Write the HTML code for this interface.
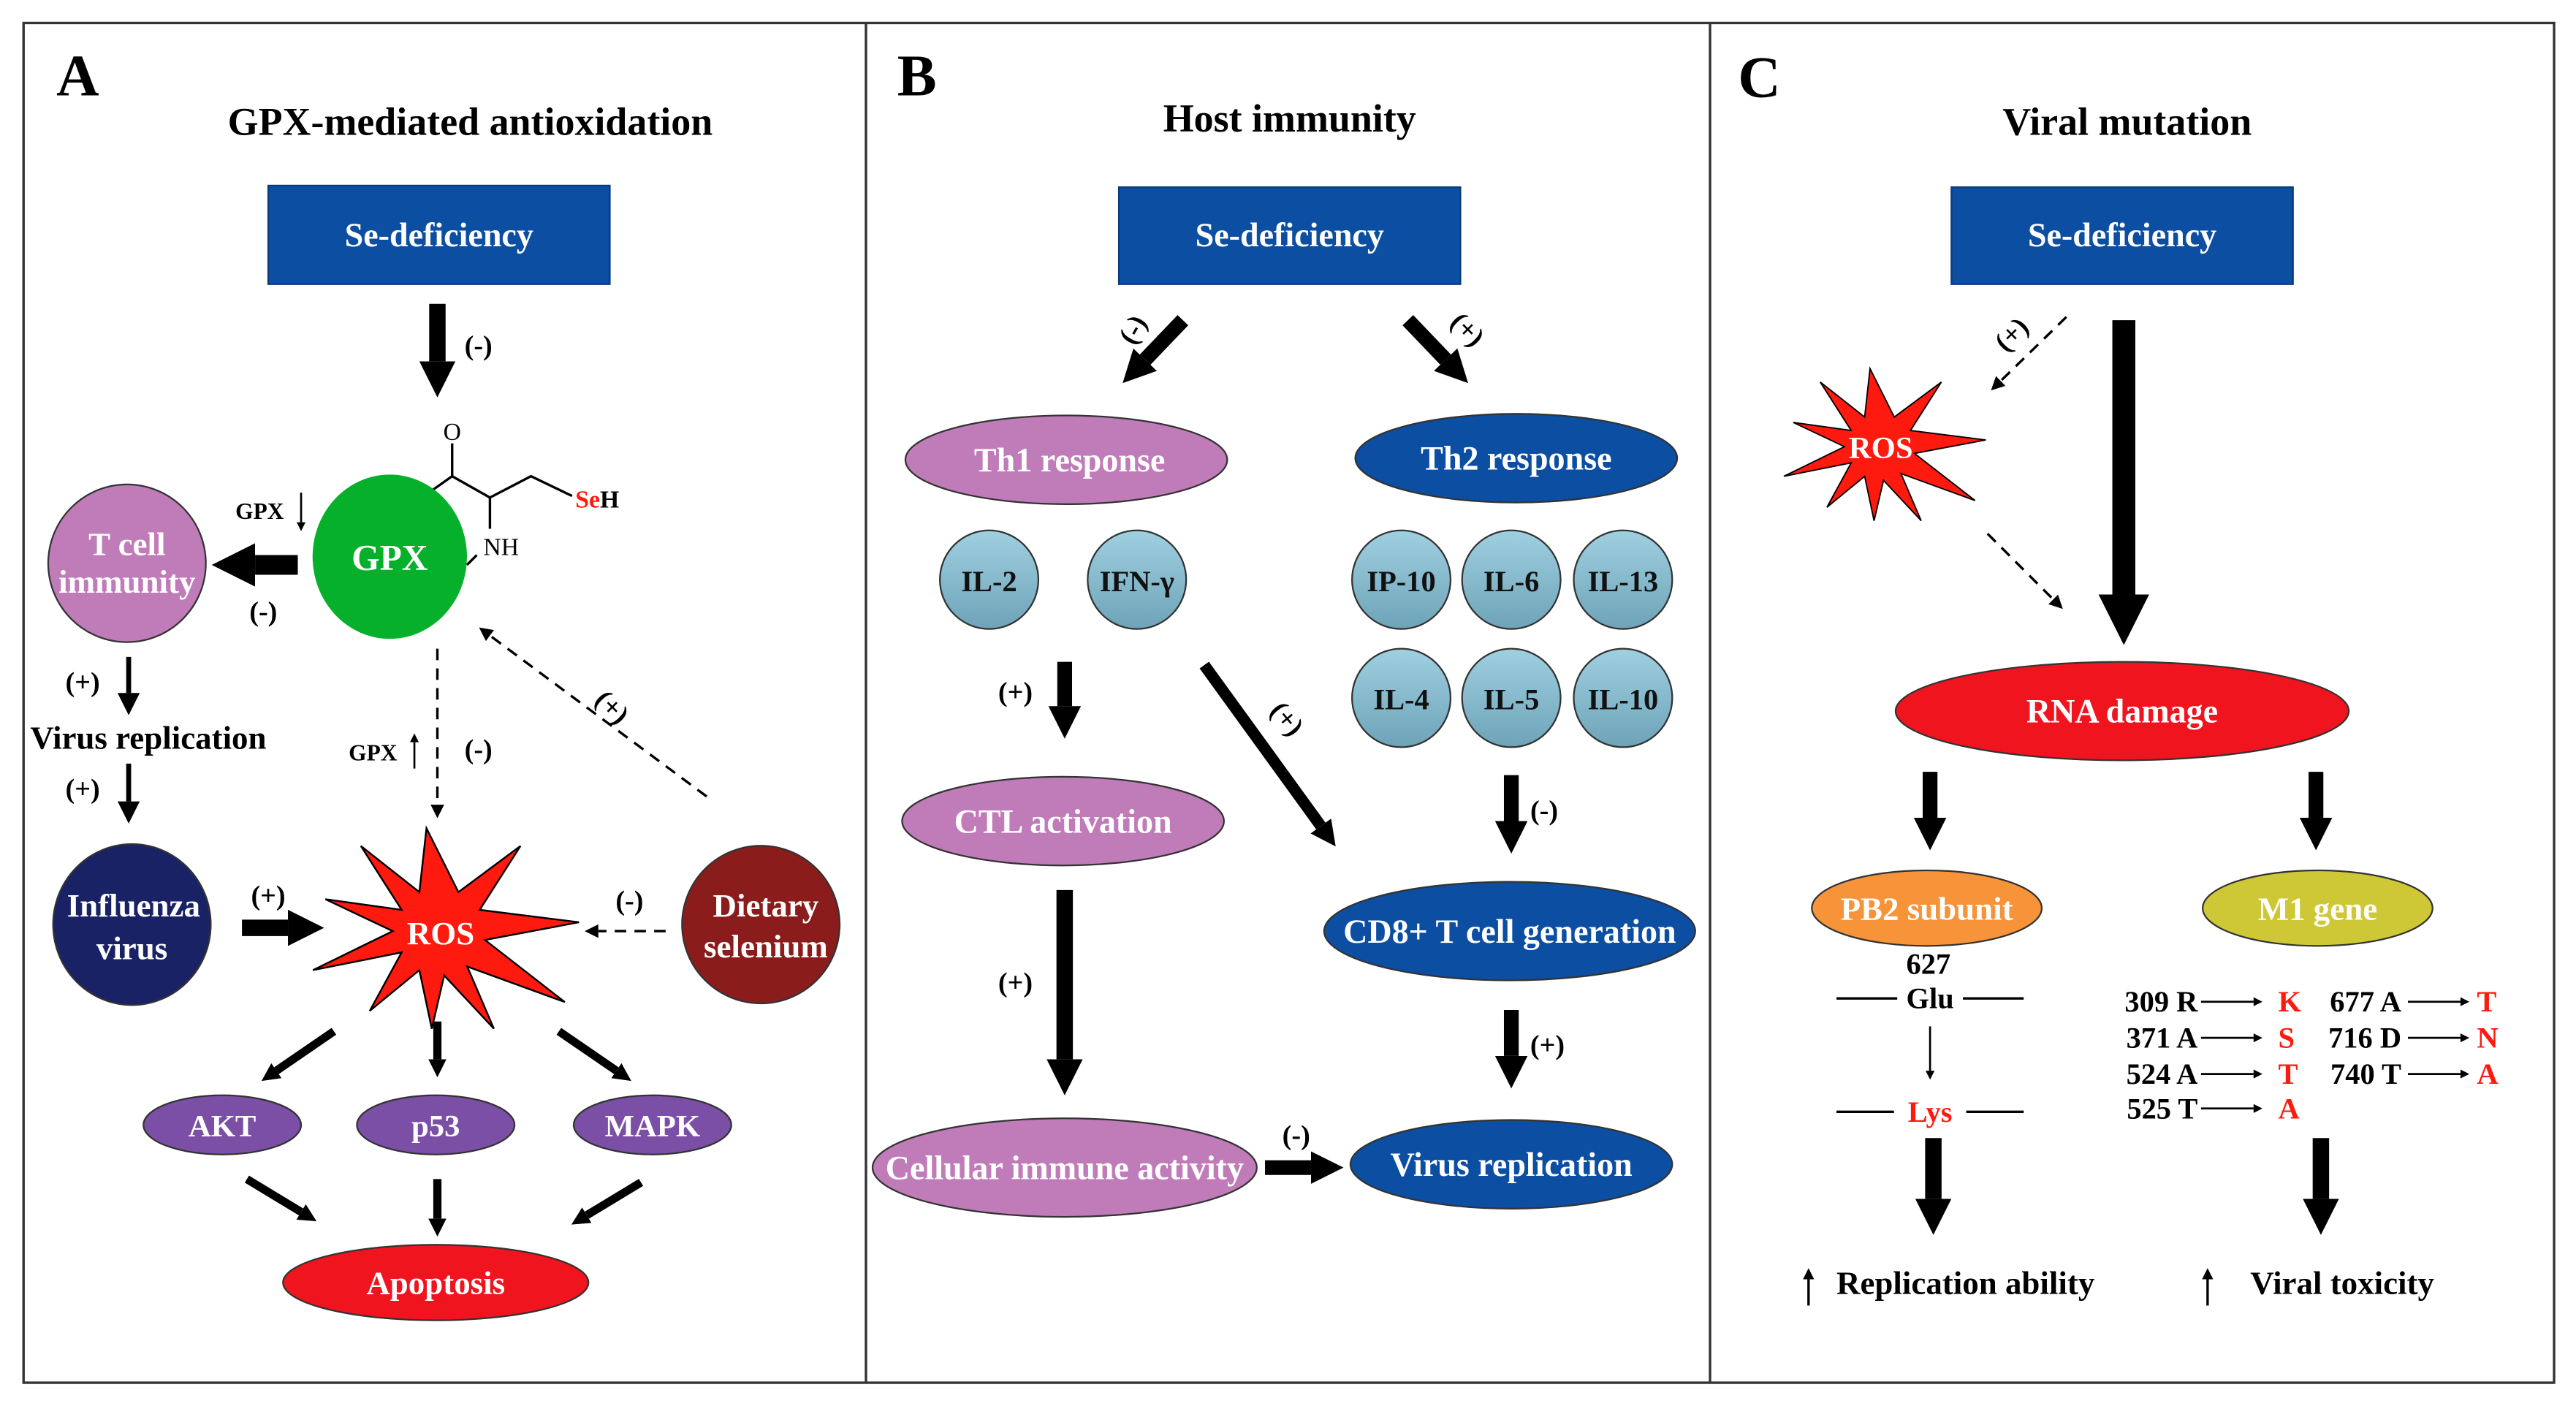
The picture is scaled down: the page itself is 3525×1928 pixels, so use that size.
<!DOCTYPE html>
<html><head><meta charset="utf-8"><style>
html,body{margin:0;padding:0;background:#fff;}
svg{display:block;}
text{font-family:"Liberation Serif",serif;font-weight:bold;}
</style></head><body>
<svg width="3525" height="1928" viewBox="0 0 1568 858" xmlns="http://www.w3.org/2000/svg">
<defs>
<marker id="hk" viewBox="0 0 10 10" refX="0" refY="5" markerWidth="2.2" markerHeight="3.6" orient="auto"><path d="M0,0 L10,5 L0,10 z" fill="#000"/></marker>
<marker id="ht" viewBox="0 0 10 10" refX="0" refY="5" markerWidth="5" markerHeight="4.5" orient="auto"><path d="M0,0 L10,5 L0,10 z" fill="#000"/></marker>
<marker id="hd" viewBox="0 0 10 10" refX="0" refY="5" markerWidth="6" markerHeight="5.5" orient="auto"><path d="M0,0 L10,5 L0,10 z" fill="#000"/></marker>
<linearGradient id="bl" x1="0" y1="0" x2="0" y2="1"><stop offset="0" stop-color="#9fd0e0"/><stop offset="1" stop-color="#6ea3b8"/></linearGradient>
<polygon id="star" points="-8,-58 10,-22 45,-48 22,-12 78,-5 25,5 70,40 15,20 30,55 2,25 -5,55 -12,22 -40,45 -22,12 -72,22 -27,0 -65,-18 -22,-12 -45,-48 -12,-22" fill="#ff1a0f" stroke="#000" stroke-width="1"/>
</defs>
<rect x="0" y="0" width="1568" height="858" fill="#fff"/>
<rect x="14" y="14" width="1541" height="828" fill="none" stroke="#333" stroke-width="1.5"/>
<line x1="527" y1="14" x2="527" y2="842" stroke="#333" stroke-width="1.5"/>
<line x1="1041" y1="14" x2="1041" y2="842" stroke="#333" stroke-width="1.5"/>

<g font-size="36"><text x="34" y="58">A</text><text x="546" y="58">B</text><text x="1058" y="59">C</text></g>
<g font-size="24" text-anchor="middle"><text x="286" y="82">GPX-mediated antioxidation</text><text x="785" y="80">Host immunity</text><text x="1295" y="82">Viral mutation</text></g>

<!-- Se boxes -->
<g fill="#0b4ea2" stroke="#0a3a7a" stroke-width="1"><rect x="163" y="113" width="208" height="60"/><rect x="681" y="114" width="208" height="59"/><rect x="1188" y="114" width="208" height="59"/></g>
<g fill="#fff" font-size="20.5" text-anchor="middle"><text x="267" y="150">Se-deficiency</text><text x="785" y="150">Se-deficiency</text><text x="1292" y="150">Se-deficiency</text></g>

<!-- Panel A -->
<g stroke="#000" fill="none">
<line x1="266" y1="185" x2="266" y2="220" stroke-width="10" marker-end="url(#hk)"/>
<line x1="181" y1="344" x2="155" y2="344" stroke-width="12" marker-end="url(#hk)"/>
<line x1="147" y1="565" x2="175" y2="565" stroke-width="10" marker-end="url(#hk)"/>
<line x1="203" y1="628" x2="168" y2="652" stroke-width="5" marker-end="url(#hk)"/>
<line x1="266" y1="622" x2="266" y2="645" stroke-width="5" marker-end="url(#hk)"/>
<line x1="340" y1="628" x2="375" y2="652" stroke-width="5" marker-end="url(#hk)"/>
<line x1="150" y1="718" x2="183" y2="738" stroke-width="5" marker-end="url(#hk)"/>
<line x1="266" y1="718" x2="266" y2="742" stroke-width="5" marker-end="url(#hk)"/>
<line x1="390" y1="720" x2="357" y2="740" stroke-width="5" marker-end="url(#hk)"/>
<line x1="78" y1="400" x2="78" y2="422" stroke-width="3" marker-end="url(#ht)"/>
<line x1="78" y1="465" x2="78" y2="488" stroke-width="3" marker-end="url(#ht)"/>
<line x1="183" y1="300" x2="183" y2="318" stroke-width="1.2" marker-end="url(#ht)"/>
<line x1="252" y1="468" x2="252" y2="452" stroke-width="1.2" marker-end="url(#ht)"/>
<line x1="266" y1="395" x2="266" y2="490" stroke-width="1.5" stroke-dasharray="7,5" marker-end="url(#hd)"/>
<line x1="430" y1="485" x2="298" y2="387" stroke-width="1.5" stroke-dasharray="7,5" marker-end="url(#hd)"/>
<line x1="405" y1="567" x2="364" y2="567" stroke-width="1.5" stroke-dasharray="7,5" marker-end="url(#hd)"/>
<polyline points="258,302 275,290 298,303 323,290 348,302" stroke-width="1.5"/>
<line x1="275" y1="290" x2="275" y2="270" stroke-width="1.5"/>
<line x1="298" y1="303" x2="298" y2="322" stroke-width="1.5"/>
<line x1="290" y1="338" x2="284" y2="344" stroke-width="1.5"/>
</g>
<text x="275" y="268" font-size="15" text-anchor="middle" style="font-weight:normal">O</text>
<text x="350" y="309" font-size="15"><tspan fill="#ff1a0f">Se</tspan>H</text>
<text x="294" y="338" font-size="15" style="font-weight:normal">NH</text>
<ellipse cx="237" cy="339" rx="47" ry="50" fill="#07b02a"/>
<text x="237" y="347" font-size="22" fill="#fff" text-anchor="middle">GPX</text>
<ellipse cx="77" cy="343" rx="48" ry="48" fill="#c07cb8" stroke="#333"/>
<text x="77" y="338" font-size="20" fill="#fff" text-anchor="middle">T cell</text>
<text x="77" y="361" font-size="20" fill="#fff" text-anchor="middle">immunity</text>
<ellipse cx="80" cy="563" rx="48" ry="49" fill="#1a2266" stroke="#333"/>
<text x="81" y="558" font-size="20" fill="#fff" text-anchor="middle">Influenza</text>
<text x="80" y="584" font-size="20" fill="#fff" text-anchor="middle">virus</text>
<ellipse cx="463" cy="563" rx="48" ry="48" fill="#8b1c1c" stroke="#333"/>
<text x="466" y="558" font-size="20" fill="#fff" text-anchor="middle">Dietary</text>
<text x="466" y="583" font-size="20" fill="#fff" text-anchor="middle">selenium</text>
<use href="#star" transform="translate(268,567) scale(1.08)"/>
<text x="268" y="575" font-size="20" fill="#fff" text-anchor="middle">ROS</text>
<g font-size="17" text-anchor="middle">
<text x="291" y="216">(-)</text><text x="160" y="378">(-)</text><text x="50" y="421">(+)</text><text x="50" y="486">(+)</text>
<text x="163" y="551">(+)</text><text x="291" y="462">(-)</text><text x="383" y="554">(-)</text>
<text x="372" y="436" transform="rotate(45 372 431)">(+)</text>
</g>
<text x="143" y="316" font-size="14">GPX</text>
<text x="212" y="463" font-size="14">GPX</text>
<text x="18" y="456" font-size="20">Virus replication</text>
<g fill="#7b4fa6" stroke="#333"><ellipse cx="135" cy="685" rx="48" ry="18"/><ellipse cx="265" cy="685" rx="48" ry="18"/><ellipse cx="397" cy="685" rx="48" ry="18"/></g>
<g fill="#fff" font-size="19" text-anchor="middle"><text x="135" y="692">AKT</text><text x="265" y="692">p53</text><text x="397" y="692">MAPK</text></g>
<ellipse cx="265" cy="781" rx="93" ry="23" fill="#f0141e" stroke="#333"/>
<text x="265" y="788" font-size="20" fill="#fff" text-anchor="middle">Apoptosis</text>

<!-- Panel B -->
<g stroke="#000" fill="none">
<line x1="720" y1="195" x2="697" y2="219" stroke-width="9" marker-end="url(#hk)"/>
<line x1="857" y1="195" x2="880" y2="219" stroke-width="9" marker-end="url(#hk)"/>
<line x1="648" y1="403" x2="648" y2="430" stroke-width="9" marker-end="url(#hk)"/>
<line x1="733" y1="405" x2="804" y2="503" stroke-width="7" marker-end="url(#hk)"/>
<line x1="920" y1="472" x2="920" y2="500" stroke-width="9" marker-end="url(#hk)"/>
<line x1="648" y1="542" x2="648" y2="645" stroke-width="10" marker-end="url(#hk)"/>
<line x1="920" y1="615" x2="920" y2="643" stroke-width="9" marker-end="url(#hk)"/>
<line x1="770" y1="711" x2="798" y2="711" stroke-width="9" marker-end="url(#hk)"/>
</g>
<g font-size="17" text-anchor="middle">
<text x="690" y="206" transform="rotate(-60 690 201)">(-)</text>
<text x="893" y="206" transform="rotate(45 893 201)">(+)</text>
<text x="618" y="427">(+)</text><text x="783" y="443" transform="rotate(50 783 438)">(+)</text>
<text x="940" y="499">(-)</text><text x="618" y="604">(+)</text><text x="942" y="642">(+)</text><text x="789" y="697">(-)</text>
</g>
<g stroke="#333">
<ellipse cx="649" cy="280" rx="98" ry="27" fill="#c07cb8"/>
<ellipse cx="923" cy="279" rx="98" ry="27" fill="#0b4ea2"/>
<ellipse cx="647" cy="500" rx="98" ry="27" fill="#c07cb8"/>
<ellipse cx="919" cy="567" rx="113" ry="30" fill="#0b4ea2"/>
<ellipse cx="648" cy="711" rx="117" ry="30" fill="#c07cb8"/>
<ellipse cx="920" cy="709" rx="98" ry="27" fill="#0b4ea2"/>
</g>
<g fill="#fff" font-size="20.5" text-anchor="middle">
<text x="651" y="287">Th1 response</text><text x="923" y="286">Th2 response</text>
<text x="647" y="507">CTL activation</text><text x="919" y="574">CD8+ T cell generation</text>
<text x="648" y="718">Cellular immune activity</text><text x="920" y="716">Virus replication</text>
</g>
<g fill="url(#bl)" stroke="#333">
<circle cx="602" cy="353" r="30"/><circle cx="692" cy="353" r="30"/><circle cx="853" cy="353" r="30"/><circle cx="920" cy="353" r="30"/><circle cx="988" cy="353" r="30"/>
<circle cx="853" cy="425" r="30"/><circle cx="920" cy="425" r="30"/><circle cx="988" cy="425" r="30"/>
</g>
<g font-size="18" text-anchor="middle" fill="#111">
<text x="602" y="360">IL-2</text><text x="692" y="360">IFN-γ</text><text x="853" y="360">IP-10</text><text x="920" y="360">IL-6</text><text x="988" y="360">IL-13</text>
<text x="853" y="432">IL-4</text><text x="920" y="432">IL-5</text><text x="988" y="432">IL-10</text>
</g>

<!-- Panel C -->
<g stroke="#000" fill="none">
<line x1="1293" y1="195" x2="1293" y2="362" stroke-width="14" marker-end="url(#hk)"/>
<line x1="1258" y1="193" x2="1218" y2="232" stroke-width="1.5" stroke-dasharray="7,5" marker-end="url(#hd)"/>
<line x1="1210" y1="325" x2="1250" y2="365" stroke-width="1.5" stroke-dasharray="7,5" marker-end="url(#hd)"/>
<line x1="1175" y1="470" x2="1175" y2="498" stroke-width="9" marker-end="url(#hk)"/>
<line x1="1410" y1="470" x2="1410" y2="498" stroke-width="9" marker-end="url(#hk)"/>
<line x1="1177" y1="693" x2="1177" y2="730" stroke-width="10" marker-end="url(#hk)"/>
<line x1="1413" y1="693" x2="1413" y2="730" stroke-width="10" marker-end="url(#hk)"/>
<line x1="1175" y1="625" x2="1175" y2="652" stroke-width="1.2" marker-end="url(#ht)"/>
<line x1="1101" y1="795" x2="1101" y2="779" stroke-width="1.5" marker-end="url(#ht)"/>
<line x1="1344" y1="795" x2="1344" y2="779" stroke-width="1.5" marker-end="url(#ht)"/>
<line x1="1118" y1="608" x2="1155" y2="608" stroke-width="1.5"/><line x1="1195" y1="608" x2="1232" y2="608" stroke-width="1.5"/>
<line x1="1118" y1="677" x2="1153" y2="677" stroke-width="1.5"/><line x1="1197" y1="677" x2="1232" y2="677" stroke-width="1.5"/>
<g stroke-width="1.2">
<line x1="1340" y1="610" x2="1372" y2="610" marker-end="url(#ht)"/><line x1="1340" y1="632" x2="1372" y2="632" marker-end="url(#ht)"/>
<line x1="1340" y1="654" x2="1372" y2="654" marker-end="url(#ht)"/><line x1="1340" y1="675" x2="1372" y2="675" marker-end="url(#ht)"/>
<line x1="1466" y1="610" x2="1498" y2="610" marker-end="url(#ht)"/><line x1="1466" y1="632" x2="1498" y2="632" marker-end="url(#ht)"/>
<line x1="1466" y1="654" x2="1498" y2="654" marker-end="url(#ht)"/>
</g>
</g>
<use href="#star" transform="translate(1145,272) scale(0.82)"/>
<text x="1145" y="279" font-size="19" fill="#fff" text-anchor="middle">ROS</text>
<text x="1225" y="209" font-size="17" text-anchor="middle" transform="rotate(-45 1225 204)">(+)</text>
<ellipse cx="1292" cy="433" rx="138" ry="30" fill="#f0141e" stroke="#333"/>
<text x="1292" y="440" font-size="20.5" fill="#fff" text-anchor="middle">RNA damage</text>
<ellipse cx="1173" cy="553" rx="70" ry="23" fill="#f7943a" stroke="#333"/>
<ellipse cx="1411" cy="553" rx="70" ry="23" fill="#cfc836" stroke="#333"/>
<text x="1173" y="560" font-size="20" fill="#fff" text-anchor="middle">PB2 subunit</text>
<text x="1411" y="560" font-size="20" fill="#fff" text-anchor="middle">M1 gene</text>
<g font-size="18" text-anchor="middle"><text x="1174" y="593">627</text><text x="1175" y="614">Glu</text><text x="1175" y="683" fill="#ff1a0f">Lys</text></g>
<g font-size="18" text-anchor="end">
<text x="1338" y="616">309 R</text><text x="1338" y="638">371 A</text><text x="1338" y="660">524 A</text><text x="1338" y="681">525 T</text>
<text x="1462" y="616">677 A</text><text x="1462" y="638">716 D</text><text x="1462" y="660">740 T</text>
</g>
<g font-size="18" fill="#ff1a0f">
<text x="1387" y="616">K</text><text x="1387" y="638">S</text><text x="1387" y="660">T</text><text x="1387" y="681">A</text>
<text x="1508" y="616">T</text><text x="1508" y="638">N</text><text x="1508" y="660">A</text>
</g>
<text x="1118" y="788" font-size="20">Replication ability</text>
<text x="1370" y="788" font-size="20">Viral toxicity</text>
</svg>
</body></html>
